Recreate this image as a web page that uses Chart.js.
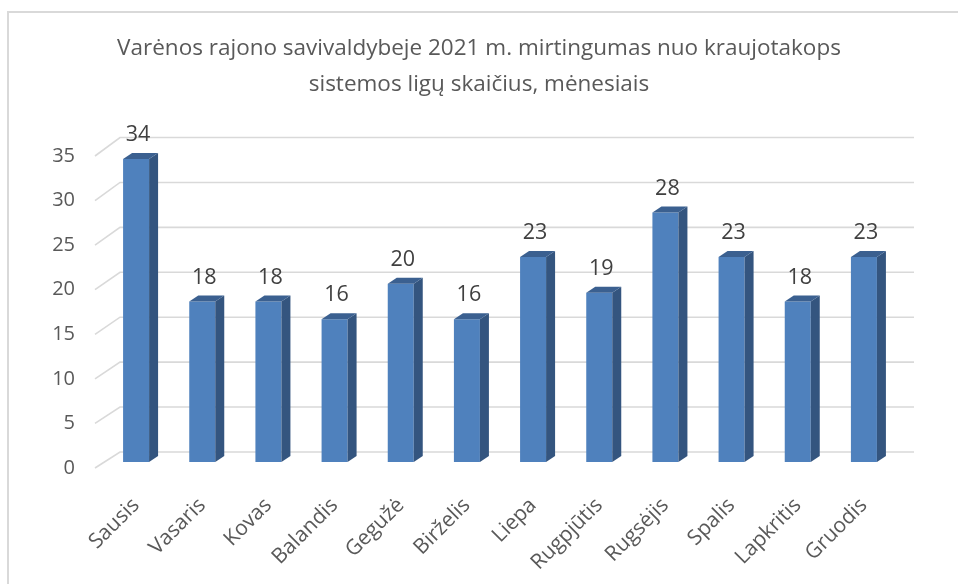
<!DOCTYPE html>
<html>
<head>
<meta charset="utf-8">
<script src="https://cdn.jsdelivr.net/npm/chart.js@4/dist/chart.umd.min.js"></script>
<style>
  html, body { margin: 0; padding: 0; background: #ffffff; }
  #wrap { width: 958px; height: 584px; position: relative; }
</style>
</head>
<body>
<div id="wrap"><canvas id="c" width="958" height="584"></canvas></div>
<script>
const categories = ["Sausis", "Vasaris", "Kovas", "Balandis", "Gegužė", "Birželis", "Liepa", "Rugpjūtis", "Rugsėjis", "Spalis", "Lapkritis", "Gruodis"];
const deaths = [34, 18, 18, 16, 20, 16, 23, 19, 28, 23, 18, 23];
const yTicks = [0, 5, 10, 15, 20, 25, 30, 35];
const titleLines = ["Varėnos rajono savivaldybeje 2021 m. mirtingumas nuo kraujotakops", "sistemos ligų skaičius, mėnesiais"];

const FONT = "'Open Sans', 'Noto Sans', sans-serif";
const TEXT = '#595959';
const GRID = '#d9d9d9';
const FRONT = '#4f81bd';
const SIDE = '#34557f';
const TOP = '#3b6090';
const BAR_DX = 9, BAR_DY = -6;      // bar depth
const WALL_DX = 17, WALL_DY = -10;  // back wall offset from plot front
const FLOOR_DX = -8, FLOOR_DY = 6;  // front edge offset

const frame = {
  id: 'frame',
  beforeDraw(chart) {
    const ctx = chart.ctx;
    ctx.save();
    ctx.fillStyle = '#ffffff';
    ctx.fillRect(0, 0, chart.width, chart.height);
    ctx.strokeStyle = GRID;
    ctx.lineWidth = 2;
    ctx.beginPath();
    ctx.moveTo(8, chart.height);
    ctx.lineTo(8, 12);
    ctx.lineTo(chart.width, 12);
    ctx.stroke();
    ctx.restore();
  }
};

const wall = {
  id: 'wall',
  beforeDatasetsDraw(chart) {
    const ctx = chart.ctx, y = chart.scales.y, a = chart.chartArea;
    const y0 = y.getPixelForValue(0), yTop = y.getPixelForValue(y.max);
    const backTop = yTop + WALL_DY - 2.5;
    ctx.save();
    ctx.strokeStyle = GRID;
    ctx.lineWidth = 1.6;
    yTicks.forEach(v => {
      const fy = y.getPixelForValue(v);
      const by = (y0 + WALL_DY) + (fy - y0) * ((y0 + WALL_DY - backTop) / (y0 - yTop));
      ctx.beginPath();
      ctx.moveTo(a.left + FLOOR_DX, fy + FLOOR_DY);
      ctx.lineTo(a.left + WALL_DX, by);
      ctx.lineTo(a.right + WALL_DX, by);
      ctx.stroke();
    });
    ctx.restore();
  }
};

const depth = {
  id: 'depth',
  afterDatasetsDraw(chart) {
    const ctx = chart.ctx;
    const meta = chart.getDatasetMeta(0);
    ctx.save();
    meta.data.forEach((bar, i) => {
      const p = bar.getProps(['x', 'y', 'base', 'width'], true);
      const l = p.x - p.width / 2, r = p.x + p.width / 2;
      ctx.fillStyle = SIDE;
      ctx.beginPath();
      ctx.moveTo(r, p.y);
      ctx.lineTo(r + BAR_DX, p.y + BAR_DY);
      ctx.lineTo(r + BAR_DX, p.base + BAR_DY);
      ctx.lineTo(r, p.base);
      ctx.closePath();
      ctx.fill();
      ctx.fillStyle = TOP;
      ctx.beginPath();
      ctx.moveTo(l, p.y);
      ctx.lineTo(l + BAR_DX, p.y + BAR_DY);
      ctx.lineTo(r + BAR_DX, p.y + BAR_DY);
      ctx.lineTo(r, p.y);
      ctx.closePath();
      ctx.fill();
      ctx.fillStyle = '#404040';
      ctx.font = "21.5px " + FONT;
      ctx.textAlign = 'center';
      ctx.textBaseline = 'middle';
      ctx.fillText(String(deaths[i]), p.x + 2, p.y - 24);
    });
    ctx.restore();
  }
};

new Chart(document.getElementById('c'), {
  type: 'bar',
  data: {
    labels: categories,
    datasets: [{
      data: deaths,
      backgroundColor: FRONT,
      borderWidth: 0,
      barPercentage: 0.393,
      categoryPercentage: 1.0
    }]
  },
  options: {
    responsive: false,
    animation: false,
    events: [],
    layout: { padding: 0 },
    plugins: {
      legend: { display: false },
      tooltip: { enabled: false },
      title: {
        display: true,
        text: titleLines,
        color: TEXT,
        font: { family: FONT, size: 22.5, weight: 'normal', lineHeight: 1.6 },
        padding: { top: 31, bottom: 47 }
      }
    },
    scales: {
      x: {
        grid: { display: false, drawTicks: false },
        border: { display: false },
        ticks: {
          color: TEXT,
          font: { family: FONT, size: 21 },
          minRotation: 45,
          maxRotation: 45,
          padding: 31,
          autoSkip: false
        },
        afterFit(scale) { scale.height = 122; }
      },
      y: {
        min: 0,
        max: 35,
        grid: { display: false, drawTicks: false },
        border: { display: false },
        ticks: {
          stepSize: 5,
          color: TEXT,
          font: { family: FONT, size: 20 },
          padding: 28,
          labelOffset: 6
        },
        afterFit(scale) { scale.width = 103; }
      },
      yRight: {
        position: 'right',
        display: true,
        grid: { display: false, drawTicks: false },
        border: { display: false },
        ticks: { display: false },
        afterFit(scale) { scale.width = 61; }
      }
    }
  },
  plugins: [frame, wall, depth]
});
</script>
</body>
</html>
